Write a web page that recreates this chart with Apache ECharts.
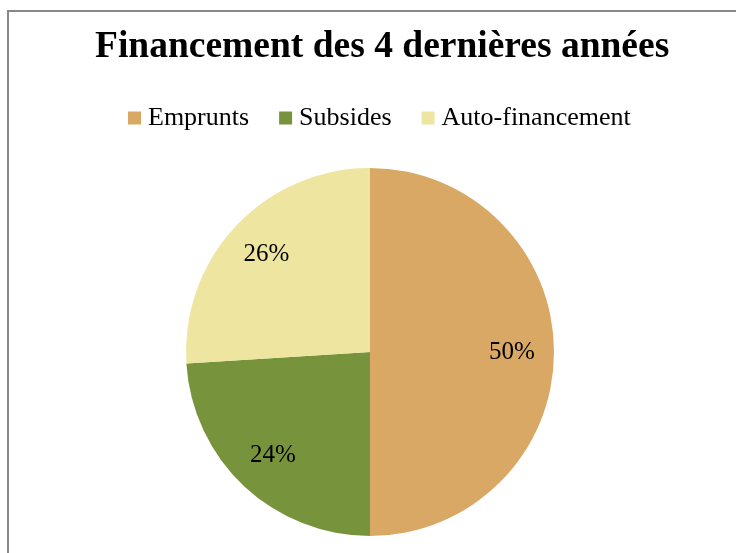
<!DOCTYPE html>
<html>
<head>
<meta charset="utf-8">
<script src="https://cdn.jsdelivr.net/npm/echarts@6/dist/echarts.min.js"></script>
<style>
  html, body { margin: 0; padding: 0; background: #fff; }
  #chart { width: 736px; height: 553px; }
  .frame { position: absolute; left: 7px; top: 10px; right: -4px; bottom: -4px; border: 2px solid #888; pointer-events: none; }
</style>
</head>
<body>
<div id="chart"></div>
<div class="frame"></div>
<script>
// données du graphique
const categories = ['Emprunts', 'Subsides', 'Auto-financement']
const values = [50, 24, 26]
const colors = ['#D9A864', '#77933C', '#EEE6A0']

const chart = echarts.init(document.getElementById('chart'))

const pieData = categories.map((name, i) => ({ name: name, value: values[i] }))

const option = {
  animation: false,
  color: colors,
  title: {
    text: 'Financement des 4 dernières années',
    left: 90,
    top: 23,
    textStyle: {
      fontFamily: 'Liberation Serif',
      fontSize: 37.5,
      fontWeight: 'bold',
      color: '#000'
    }
  },
  legend: {
    data: categories,
    top: 100,
    left: 123,
    icon: 'rect',
    itemWidth: 13,
    itemHeight: 13,
    itemGap: 30,
    textStyle: {
      fontFamily: 'Liberation Serif',
      fontSize: 26,
      color: '#000',
      padding: [0, 0, 0, 2]
    }
  },
  series: [
    {
      type: 'pie',
      center: [370, 352],
      radius: [0, 184],
      startAngle: 90,
      clockwise: true,
      label: { show: false },
      labelLine: { show: false },
      emphasis: { disabled: true },
      data: pieData
    },
    {
      // calque transparent pour placer les pourcentages
      type: 'pie',
      center: [370, 352],
      radius: [94, 184],
      startAngle: 90,
      clockwise: true,
      silent: true,
      itemStyle: { color: 'transparent' },
      label: {
        show: true,
        position: 'inside',
        formatter: '{c}%',
        fontFamily: 'Liberation Serif',
        fontSize: 25,
        color: '#000'
      },
      labelLine: { show: false },
      emphasis: { disabled: true },
      data: pieData
    }
  ]
}

chart.setOption(option)
</script>
</body>
</html>
